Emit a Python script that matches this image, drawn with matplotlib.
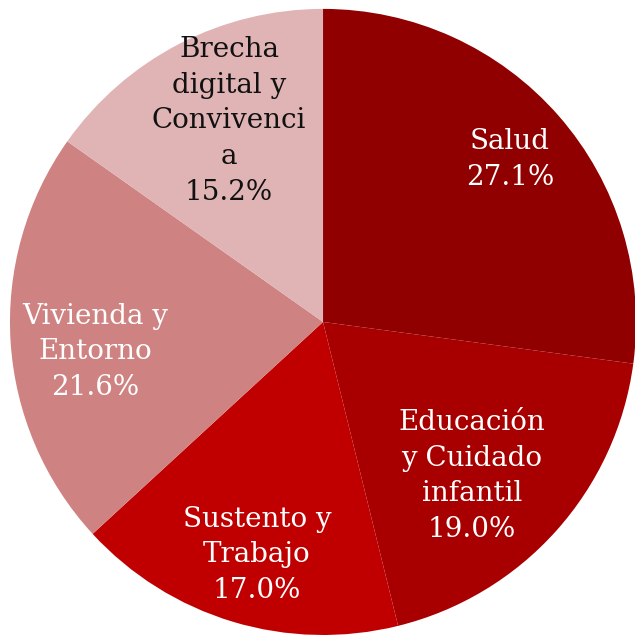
import matplotlib.pyplot as plt

categories = ["Salud", "Educación\ny Cuidado\ninfantil", "Sustento y\nTrabajo",
              "Vivienda y\nEntorno", "Brecha\ndigital y\nConvivenci\na"]
values = [27.1, 19.0, 17.0, 21.6, 15.2]
pct_labels = ["27.1%", "19.0%", "17.0%", "21.6%", "15.2%"]

colors = ["#900000", "#A80000", "#C00000", "#CF8282", "#E0B4B4"]
text_colors = ["white", "white", "white", "white", "#111111"]
# label centres in pie units (radius = 1)
label_xy = [(0.597, 0.518), (0.476, -0.492), (-0.211, -0.744),
            (-0.728, -0.096), (-0.300, 0.642)]

fig = plt.figure(figsize=(6.35, 6.35), dpi=100)
ax = fig.add_axes([0.0157, 0.0, 0.986, 0.986])

wedges, _ = ax.pie(values, colors=colors, startangle=90, counterclock=False,
                   wedgeprops=dict(linewidth=0))

for cat, pct, tc, (x, y) in zip(categories, pct_labels, text_colors, label_xy):
    ax.text(x, y, cat + "\n" + pct,
            ha="center", va="center", color=tc, fontsize=20,
            family=["DejaVu Serif"], linespacing=1.42)

ax.set_xlim(-1, 1)
ax.set_ylim(-1, 1)
ax.set_aspect("equal")
ax.axis("off")
fig.savefig("out.png", dpi=100)
